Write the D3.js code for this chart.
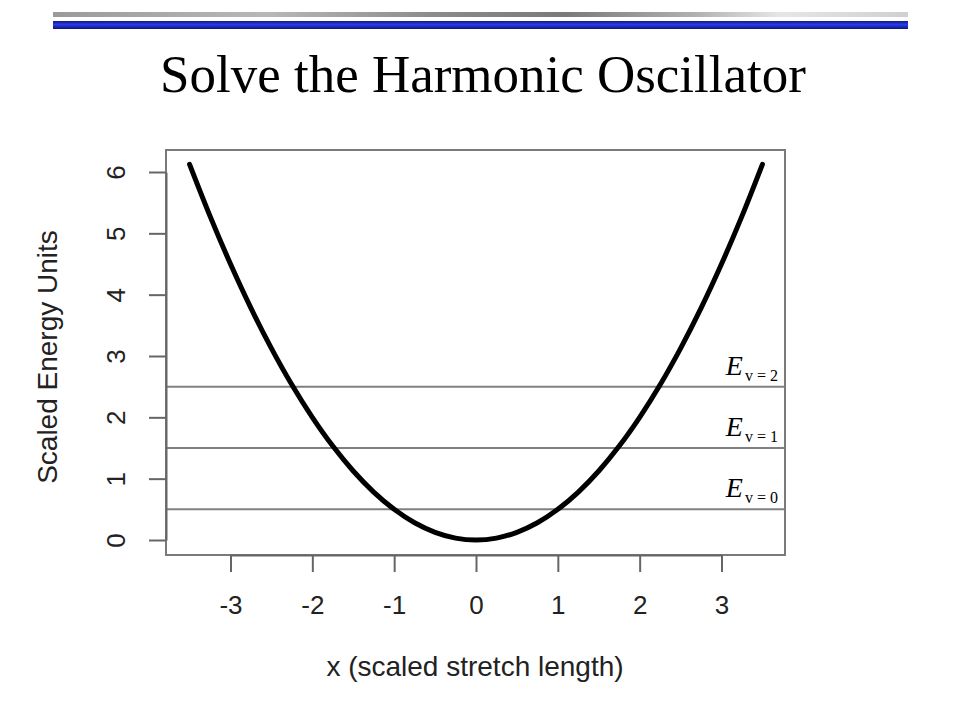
<!DOCTYPE html>
<html>
<head>
<meta charset="utf-8">
<script src="https://cdn.jsdelivr.net/npm/d3@7"></script>
<style>
  html, body { margin: 0; padding: 0; background: #fff; }
  svg { display: block; }
</style>
</head>
<body>
<svg id="chart" width="960" height="720"></svg>
<script>
// ---- data ----
const titleText = "Solve the Harmonic Oscillator";
const xLabel = "x (scaled stretch length)";
const yLabel = "Scaled Energy Units";
const xTicks = [-3, -2, -1, 0, 1, 2, 3];
const yTicks = [0, 1, 2, 3, 4, 5, 6];
// potential curve sample points (x, V)
const curveX = [-3.5, -3.25, -3, -2.75, -2.5, -2.25, -2, -1.75, -1.5, -1.25, -1, -0.75, -0.5, -0.25, 0,
                 0.25, 0.5, 0.75, 1, 1.25, 1.5, 1.75, 2, 2.25, 2.5, 2.75, 3, 3.25, 3.5];
const curveV = [6.125, 5.281, 4.5, 3.781, 3.125, 2.531, 2, 1.531, 1.125, 0.781, 0.5, 0.281, 0.125, 0.031, 0,
                 0.031, 0.125, 0.281, 0.5, 0.781, 1.125, 1.531, 2, 2.531, 3.125, 3.781, 4.5, 5.281, 6.125];
// energy levels
const levelV = [0, 1, 2];
const levelE = [0.5, 1.5, 2.5];

// ---- layout ----
const svg = d3.select("#chart");
const box = { left: 166, right: 785, top: 150, bottom: 555 };

const x = d3.scaleLinear().domain([-3, 3]).range([230.5, 721.5]);
const y = d3.scaleLinear().domain([0, 6]).range([540, 172]);

// ---- decorative top bars ----
const defs = svg.append("defs");
const gGray = defs.append("linearGradient").attr("id", "grayBar");
[["0%", "#9a9a9a"], ["25%", "#b8b8b8"], ["45%", "#8a8a8a"], ["60%", "#7a7a7a"], ["75%", "#b0b0b0"], ["85%", "#e6e6e6"], ["100%", "#d0d0d0"]]
  .forEach(([o, c]) => gGray.append("stop").attr("offset", o).attr("stop-color", c));
const gBlue = defs.append("linearGradient").attr("id", "blueBar").attr("x1", 0).attr("y1", 0).attr("x2", 0).attr("y2", 1);
[["0%", "#101a80"], ["45%", "#2a3af0"], ["100%", "#0e1670"]]
  .forEach(([o, c]) => gBlue.append("stop").attr("offset", o).attr("stop-color", c));
svg.append("rect").attr("x", 53).attr("y", 12).attr("width", 855).attr("height", 5).attr("fill", "url(#grayBar)");
svg.append("rect").attr("x", 53).attr("y", 21).attr("width", 855).attr("height", 8).attr("fill", "url(#blueBar)");

// ---- title ----
const title = svg.append("text")
  .attr("x", 483).attr("y", 92)
  .attr("text-anchor", "middle")
  .attr("font-family", "'Liberation Serif', 'Times New Roman', serif")
  .attr("font-size", 50)
  .attr("fill", "#000")
  .text(titleText);
const tw = title.node().getComputedTextLength();
title.attr("font-size", 50 * 646 / tw);

// ---- plot box ----
svg.append("rect")
  .attr("x", box.left).attr("y", box.top)
  .attr("width", box.right - box.left).attr("height", box.bottom - box.top)
  .attr("fill", "none").attr("stroke", "#7a7a7a").attr("stroke-width", 2);

// ---- energy level lines ----
svg.append("g").selectAll("line").data(levelE).join("line")
  .attr("x1", box.left).attr("x2", box.right)
  .attr("y1", d => y(d)).attr("y2", d => y(d))
  .attr("stroke", "#808080").attr("stroke-width", 2);

const lab = svg.append("g").selectAll("text").data(levelV).join("text")
  .attr("x", 778)
  .attr("y", (d, i) => y(levelE[i]) - 12)
  .attr("text-anchor", "end")
  .attr("font-family", "'Liberation Serif', 'Times New Roman', serif")
  .attr("fill", "#000");
lab.append("tspan").attr("font-style", "italic").attr("font-size", 28).text("E");
lab.append("tspan").attr("font-size", 16).attr("dx", 2).attr("dy", 6).text(d => "v = " + d);

// ---- curve ----
const line = d3.line().x((d, i) => x(curveX[i])).y(d => y(d)).curve(d3.curveCatmullRom);
svg.append("path").datum(curveV)
  .attr("d", line)
  .attr("fill", "none").attr("stroke", "#000").attr("stroke-width", 5)
  .attr("stroke-linecap", "round");

// ---- axes ----
const fontSans = "'Liberation Sans', Arial, sans-serif";
const xAxis = d3.axisBottom(x).tickValues(xTicks).tickSize(17).tickPadding(24).tickSizeOuter(0)
  .tickFormat(d => d < 0 ? "-" + Math.abs(d) : String(d));
const gx = svg.append("g").attr("transform", `translate(0,${box.bottom})`).call(xAxis);
gx.select(".domain").attr("stroke", "#666").attr("stroke-width", 2);
gx.selectAll(".tick line").attr("stroke", "#666").attr("stroke-width", 2);
gx.selectAll(".tick text").attr("font-family", fontSans).attr("font-size", 26).attr("fill", "#222");

const yAxis = d3.axisLeft(y).tickValues(yTicks).tickSize(17).tickPadding(0).tickSizeOuter(0)
  .tickFormat(d => String(d));
const gy = svg.append("g").attr("transform", `translate(${box.left},0)`).call(yAxis);
gy.select(".domain").attr("stroke", "#666").attr("stroke-width", 2);
gy.selectAll(".tick line").attr("stroke", "#666").attr("stroke-width", 2);
gy.selectAll(".tick text")
  .attr("font-family", fontSans).attr("font-size", 26).attr("fill", "#222")
  .attr("x", null).attr("dy", null)
  .attr("text-anchor", "middle")
  .attr("transform", "translate(-41,0) rotate(-90)");

// ---- axis titles ----
svg.append("text")
  .attr("x", 475).attr("y", 676)
  .attr("text-anchor", "middle")
  .attr("font-family", fontSans).attr("font-size", 28).attr("fill", "#222")
  .text(xLabel);
svg.append("text")
  .attr("transform", "translate(57,357) rotate(-90)")
  .attr("text-anchor", "middle")
  .attr("font-family", fontSans).attr("font-size", 28).attr("fill", "#222")
  .text(yLabel);
</script>
</body>
</html>
